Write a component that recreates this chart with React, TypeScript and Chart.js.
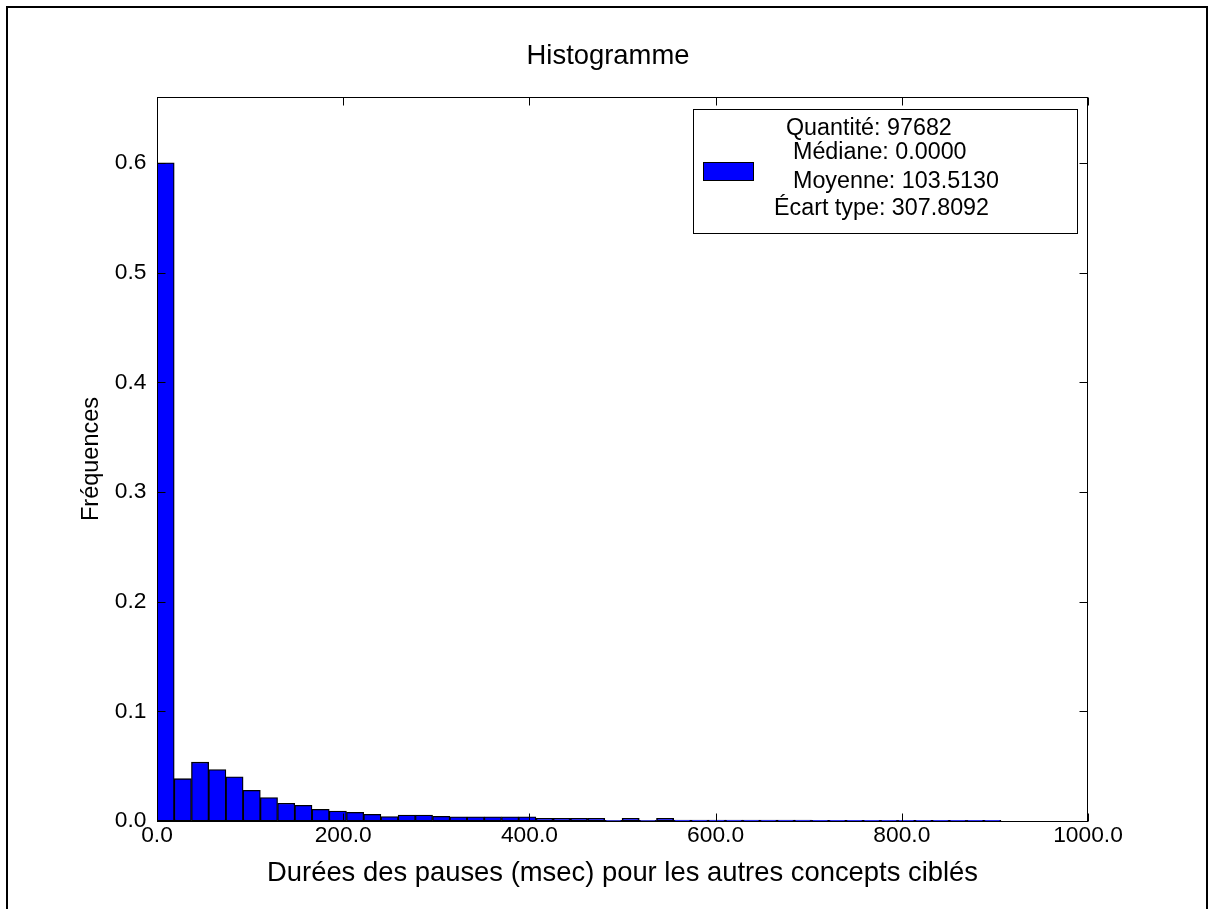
import React, { useEffect, useRef } from 'react';
import { Chart, registerables } from 'chart.js';

Chart.register(...registerables);

const FONT = '"Liberation Sans", Arial, Helvetica, sans-serif';

// Histogram: bin width (msec) and relative frequency of each bin
const binWidth = 18.5;
const frequencies = [
  0.6, 0.0386, 0.0536, 0.0469, 0.0402, 0.028, 0.0213, 0.0162, 0.0143, 0.0107,
  0.0091, 0.0079, 0.0061, 0.004, 0.0055, 0.0055, 0.0042, 0.0038, 0.0038, 0.0038,
  0.0038, 0.0038, 0.0025, 0.0025, 0.0025, 0.0025, 0.0005, 0.0025, 0.0005, 0.0025,
  0.0008, 0.0008, 0.0008, 0.0008, 0.0008, 0.0008, 0.0008, 0.0008, 0.0007, 0.0007,
  0.0006, 0.0006, 0.0006, 0.0006, 0.0006, 0.0006, 0.0006, 0.0006, 0.0006,
];
const binCenters = frequencies.map((_, i) => (i + 0.5) * binWidth);

const xTickValues = [0, 200, 400, 600, 800, 1000];
const yTickValues = [0, 0.1, 0.2, 0.3, 0.4, 0.5, 0.6];

const titleText = 'Histogramme';
const xTitle = 'Durées des pauses (msec) pour les autres concepts ciblés';
const yTitle = 'Fréquences';
const legendLines = ['Quantité: 97682', 'Médiane: 0.0000', 'Moyenne: 103.5130', 'Écart type: 307.8092'];

const overlayPlugin = {
  id: 'overlay',
  afterDatasetsDraw(chart: any) {
    const { ctx, chartArea: a, scales } = chart;
    const xs = scales.x;
    const ys = scales.y;
    ctx.save();
    ctx.strokeStyle = '#000';
    ctx.lineWidth = 1;
    const L = Math.round(a.left) + 0.5;
    const R = Math.round(a.right) - 0.5;
    const T = Math.round(a.top) + 0.5;
    const B = Math.round(a.bottom) + 0.5;
    // spines
    ctx.strokeRect(L, T, R - L, B - T);
    // inward ticks
    const tl = 8;
    ctx.beginPath();
    xs.ticks.forEach((t: any) => {
      const px = Math.round(xs.getPixelForValue(t.value)) + 0.5;
      ctx.moveTo(px, B);
      ctx.lineTo(px, B - tl);
      ctx.moveTo(px, T);
      ctx.lineTo(px, T + tl);
    });
    ys.ticks.forEach((t: any) => {
      const py = Math.round(ys.getPixelForValue(t.value)) + 0.5;
      ctx.moveTo(L, py);
      ctx.lineTo(L + tl, py);
      ctx.moveTo(R, py);
      ctx.lineTo(R - tl, py);
    });
    ctx.stroke();

    // figure title (centred on the figure)
    ctx.fillStyle = '#000';
    ctx.font = `27.4px ${FONT}`;
    ctx.textAlign = 'center';
    ctx.textBaseline = 'middle';
    ctx.fillText(titleText, 608, 56.7);

    // legend
    const bx = Math.round(a.right) - 395;
    const by = Math.round(a.top) + 12;
    const bw = 384;
    const bh = 124;
    ctx.fillStyle = '#fff';
    ctx.fillRect(bx, by, bw, bh);
    ctx.strokeRect(bx + 0.5, by + 0.5, bw, bh);
    ctx.fillStyle = '#0000ff';
    ctx.fillRect(bx + 10, by + 53, 50, 18);
    ctx.strokeRect(bx + 10.5, by + 53.5, 50, 18);
    ctx.fillStyle = '#000';
    ctx.font = `23.3px ${FONT}`;
    ctx.textBaseline = 'alphabetic';
    ctx.textAlign = 'left';
    const offsets = [
      [93, 26],
      [100, 50],
      [100, 79],
      [81, 106],
    ];
    legendLines.forEach((line, i) => {
      ctx.fillText(line, bx + offsets[i][0], by + offsets[i][1]);
    });

    // figure frame
    ctx.lineWidth = 2;
    ctx.strokeRect(7, 7, 1200, 1000);
    ctx.restore();
  },
};

export default function App() {
  const ref = useRef<HTMLCanvasElement | null>(null);

  useEffect(() => {
    if (!ref.current) return;
    const chart = new Chart(ref.current, {
      type: 'bar',
      data: {
        datasets: [
          {
            data: binCenters.map((c, i) => ({ x: c, y: frequencies[i] })),
            backgroundColor: '#0000ff',
            borderColor: '#000000',
            borderWidth: 1.3,
            borderSkipped: false,
            barPercentage: 1,
            categoryPercentage: 1,
          } as any,
        ],
      },
      options: {
        responsive: false,
        animation: false,
        devicePixelRatio: 1,
        layout: { padding: { left: 0, right: 122, top: 97, bottom: 0 } },
        plugins: {
          legend: { display: false },
          tooltip: { enabled: false },
          title: { display: false },
        },
        scales: {
          x: {
            type: 'linear',
            min: 0,
            max: 1000,
            offset: false,
            grid: { display: false, drawTicks: false, offset: false },
            border: { display: false },
            afterBuildTicks: (s: any) => {
              s.ticks = xTickValues.map((v) => ({ value: v }));
            },
            afterFit: (s: any) => {
              s.height = 88;
            },
            ticks: {
              color: '#000',
              font: { family: FONT, size: 22.8 },
              padding: 1.5,
              maxRotation: 0,
              autoSkip: false,
              callback: (v: any) => Number(v).toFixed(1),
            },
            title: {
              display: true,
              text: xTitle,
              color: '#000',
              font: { family: FONT, size: 27.4, lineHeight: 1.2 },
              padding: { top: 0, bottom: 19.6 },
            },
          } as any,
          y: {
            type: 'linear',
            min: 0,
            max: 0.66,
            grid: { display: false, drawTicks: false },
            border: { display: false },
            afterBuildTicks: (s: any) => {
              s.ticks = yTickValues.map((v) => ({ value: v }));
            },
            afterFit: (s: any) => {
              s.width = 157;
            },
            ticks: {
              color: '#000',
              font: { family: FONT, size: 22.8 },
              padding: 10.5,
              autoSkip: false,
              callback: (v: any) => Number(v).toFixed(1),
            },
            title: {
              display: true,
              text: yTitle,
              color: '#000',
              font: { family: FONT, size: 23.5, lineHeight: 1.2 },
              padding: { top: 77, bottom: 0 },
            },
          } as any,
        },
      },
      plugins: [overlayPlugin],
    });
    return () => chart.destroy();
  }, []);

  return (
    <canvas
      ref={ref}
      width={1210}
      height={909}
      style={{ position: 'fixed', left: 0, top: 0, width: 1210, height: 909, background: '#fff' }}
    />
  );
}
